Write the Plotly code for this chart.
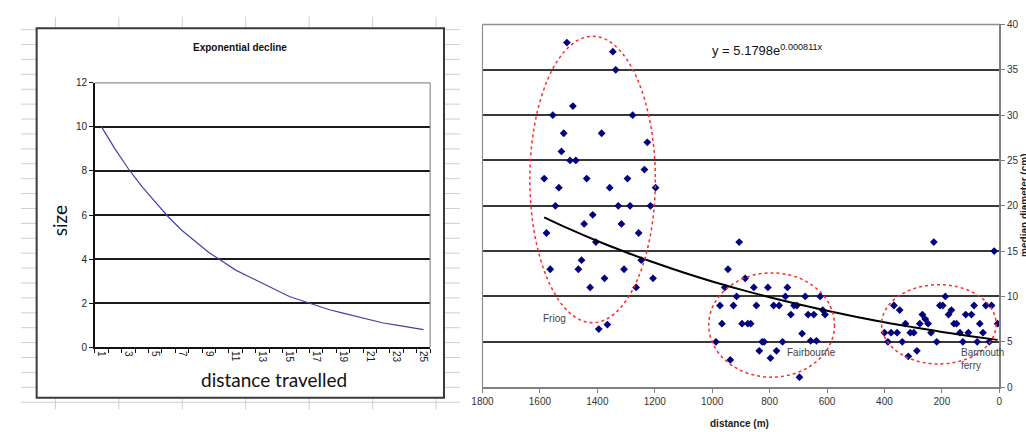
import plotly.graph_objects as go

# ---------------- data: left chart ----------------
left_x = list(range(1, 26))
left_size = [10, 9.0, 8.1, 7.3, 6.6, 5.9, 5.3, 4.8, 4.3, 3.9, 3.5, 3.2, 2.9,
             2.6, 2.3, 2.1, 1.9, 1.7, 1.55, 1.4, 1.25, 1.1, 1.0, 0.9, 0.8]
left_ticks = [1, 3, 5, 7, 9, 11, 13, 15, 17, 19, 21, 23, 25]

# ---------------- data: right chart ----------------
friog_x = [1506, 1346, 1336, 1485, 1555, 1277, 1517, 1385, 1226, 1525, 1495, 1475,
           1236, 1585, 1437, 1295, 1534, 1357, 1197, 1546, 1327, 1286, 1215, 1416,
           1446, 1316, 1577, 1256, 1405, 1455, 1247, 1564, 1466, 1307, 1375, 1206,
           1425, 1265, 1395, 1365]
friog_y = [38, 37, 35, 31, 30, 30, 28, 28, 27, 26, 25, 25,
           24, 23, 23, 23, 22, 22, 22, 20, 20, 20, 20, 19,
           18, 18, 17, 17, 16, 14, 14, 13, 13, 13, 12, 12,
           11, 11, 6.4, 6.9]
fair_x = [906, 945, 885, 956, 855, 806, 738, 915, 745, 676, 624, 973, 926, 846, 786,
          767, 715, 705, 615, 726, 666, 646, 607, 966, 896, 876, 866, 687, 987, 826,
          819, 755, 657, 637, 836, 776, 937, 797, 696]
fair_y = [16, 13, 12, 11, 11, 11, 11, 10, 10, 10, 10, 9, 9, 9, 9,
          9, 9, 9, 8.5, 8, 8, 8, 8, 7, 7, 7, 7, 5.9, 5, 5,
          5, 5, 5.1, 5.1, 4, 4, 3, 3.2, 1.1]
barm_x = [228, 18, 367, 347, 400, 388, 377, 356, 338, 327, 317, 310, 298, 287, 277,
          268, 258, 248, 238, 218, 207, 197, 188, 177, 167, 158, 149, 137, 127, 117,
          108, 97, 88, 77, 68, 57, 47, 35, 27, 6]
barm_y = [16, 15, 9, 8.5, 6, 5, 6, 6, 5, 7, 3.4, 6, 6, 4, 7,
          8, 7.5, 7, 6, 5, 9, 9, 10, 8, 8.5, 7, 7, 6, 5, 8,
          6, 8, 9, 5, 7, 6, 9, 5, 9, 7]
trend_x = [1585, 1500, 1400, 1300, 1200, 1100, 1000, 900, 800, 700, 600, 500, 400, 300, 200, 100, 6]
trend_y = [18.73, 17.48, 16.12, 14.87, 13.71, 12.64, 11.65, 10.75, 9.91, 9.14, 8.43,
           7.77, 7.16, 6.61, 6.09, 5.62, 5.21]

# ellipses (x0, x1, y0, y1) in data units and labels
ellipses = [(1635, 1198, 7.1, 38.7), (1012, 574, 1.1, 12.6), (410, 11, 2.55, 11.3)]
site_labels = [("Friog", 1596, 7.55), ("Fairbourne", 748, 3.8),
               ("Barmouth", 141, 3.8), ("ferry", 141, 2.35)]

W, H = 1026, 432
NARROW = "Liberation Sans Narrow, Arial Narrow, Liberation Sans, Arial, sans-serif"
ARIAL = "Liberation Sans, Arial, sans-serif"

def px(x):
    return x / W

def py(y):
    return 1 - y / H

fig = go.Figure()

fig.add_trace(go.Scatter(x=left_x, y=left_size, mode="lines",
                         line=dict(color="#4040aa", width=1.2),
                         xaxis="x", yaxis="y", hoverinfo="skip"))

all_x = friog_x + fair_x + barm_x
all_y = friog_y + fair_y + barm_y
fig.add_trace(go.Scatter(x=all_x, y=all_y, mode="markers",
                         marker=dict(symbol="diamond", color="#000080", size=6),
                         xaxis="x2", yaxis="y2"))
fig.add_trace(go.Scatter(x=trend_x, y=trend_y, mode="lines",
                         line=dict(color="#000000", width=2, shape="spline"),
                         xaxis="x2", yaxis="y2"))

shapes = []
# spreadsheet grid behind left chart
for i in range(26):
    yy = 24.3 + i * 15.33
    shapes.append(dict(type="line", xref="paper", yref="paper",
                       x0=px(10), x1=px(455), y0=py(yy), y1=py(yy),
                       line=dict(color="#cfcfcf", width=1), layer="below"))
for i in range(7):
    xx = 45 + i * 64.33
    for (a, b) in [(11, 23), (403, 415)]:
        shapes.append(dict(type="line", xref="paper", yref="paper",
                           x0=px(xx), x1=px(xx), y0=py(a), y1=py(b),
                           line=dict(color="#cfcfcf", width=1), layer="below"))
# left chart frame
shapes.append(dict(type="rect", xref="paper", yref="paper",
                   x0=px(26), x1=px(439), y0=py(403), y1=py(23),
                   line=dict(color="#3a3a3a", width=2), fillcolor="white", layer="below"))
# left plot area grey border (top/right)
shapes.append(dict(type="line", xref="x domain", yref="y domain", x0=0, x1=1, y0=1, y1=1,
                   line=dict(color="#909090", width=1.2), layer="above"))
shapes.append(dict(type="line", xref="x domain", yref="y domain", x0=1, x1=1, y0=0, y1=1,
                   line=dict(color="#909090", width=1.2), layer="above"))
# right plot area grey border (top/left)
shapes.append(dict(type="line", xref="x2 domain", yref="y2 domain", x0=0, x1=1, y0=1, y1=1,
                   line=dict(color="#909090", width=1.5), layer="above"))
shapes.append(dict(type="line", xref="x2 domain", yref="y2 domain", x0=0, x1=0, y0=0, y1=1,
                   line=dict(color="#909090", width=1.2), layer="above"))
for (x0, x1, y0, y1) in ellipses:
    shapes.append(dict(type="circle", xref="x2", yref="y2", x0=x0, x1=x1, y0=y0, y1=y1,
                       line=dict(color="#ff2a2a", width=1.5, dash="dot"), layer="above"))

def ann(text, x, y, size, family, color="#111", **kw):
    d = dict(text=text, xref="paper", yref="paper", x=px(x), y=py(y), showarrow=False,
             xanchor="center", yanchor="middle",
             font=dict(family=family, size=size, color=color))
    d.update(kw)
    return d

annotations = [
    ann("<b>Exponential decline</b>", 232, 43, 10, ARIAL),
    ann("size", 50, 221, 19, "Lato, Open Sans, sans-serif", textangle=-90),
    ann("distance travelled", 267, 384, 19, "Lato, Open Sans, sans-serif"),
    ann("y = 5.1798e<sup>0.000811x</sup>", 709, 45, 13, NARROW, xanchor="left"),
    ann("<b>distance (m)</b>", 739, 429, 10, NARROW, color="#222"),
    ann("<b>median diameter (cm)</b>", 1020, 205, 10, NARROW, color="#222",
        xanchor="left", textangle=-90),
]
for (t, xx, yy) in site_labels:
    annotations.append(dict(text=t, xref="x2", yref="y2", x=xx, y=yy, xanchor="left",
                            yanchor="middle", showarrow=False,
                            font=dict(family=NARROW, size=10, color="#444")))

fig.update_layout(
    width=W, height=H, margin=dict(l=0, r=0, t=0, b=0),
    paper_bgcolor="white", plot_bgcolor="rgba(0,0,0,0)", showlegend=False,
    shapes=shapes, annotations=annotations,
    xaxis=dict(domain=[px(85), px(425)], range=[0.5, 25.5], anchor="y",
               tickmode="array", tickvals=left_ticks, ticktext=[str(v) for v in left_ticks],
               tickangle=90, ticks="", showgrid=False, zeroline=False,
               showline=True, linecolor="#111", linewidth=1.5,
               tickfont=dict(family=ARIAL, size=10, color="#222"),
               minor=dict(tickmode="linear", tick0=0.5, dtick=1, ticks="outside",
                          ticklen=4, tickcolor="#111", showgrid=False)),
    yaxis=dict(domain=[py(351), py(79)], range=[0, 12], anchor="x",
               tickmode="linear", tick0=0, dtick=2, ticks="outside", ticklen=4,
               tickcolor="#111", showgrid=True, gridcolor="#1a1a1a", gridwidth=1.5,
               zeroline=False, showline=True, linecolor="#111", linewidth=1.5,
               tickfont=dict(family=ARIAL, size=10, color="#222")),
    xaxis2=dict(domain=[px(478), px(1002)], range=[1800, 0], anchor="y2",
                tickmode="linear", tick0=0, dtick=200, ticks="outside", ticklen=4,
                tickcolor="#808080", showgrid=False, zeroline=False,
                showline=True, linecolor="#808080", linewidth=1.5,
                tickfont=dict(family=NARROW, size=10, color="#333")),
    yaxis2=dict(domain=[py(392), py(19)], range=[0, 40], anchor="x2", side="right",
                tickmode="linear", tick0=0, dtick=5, ticks="outside", ticklen=4,
                tickcolor="#808080", showgrid=True, gridcolor="#383838", gridwidth=1.5,
                zeroline=False, showline=True, linecolor="#808080", linewidth=1.5,
                tickfont=dict(family=NARROW, size=10, color="#333")),
)

fig.write_html("out.html")
